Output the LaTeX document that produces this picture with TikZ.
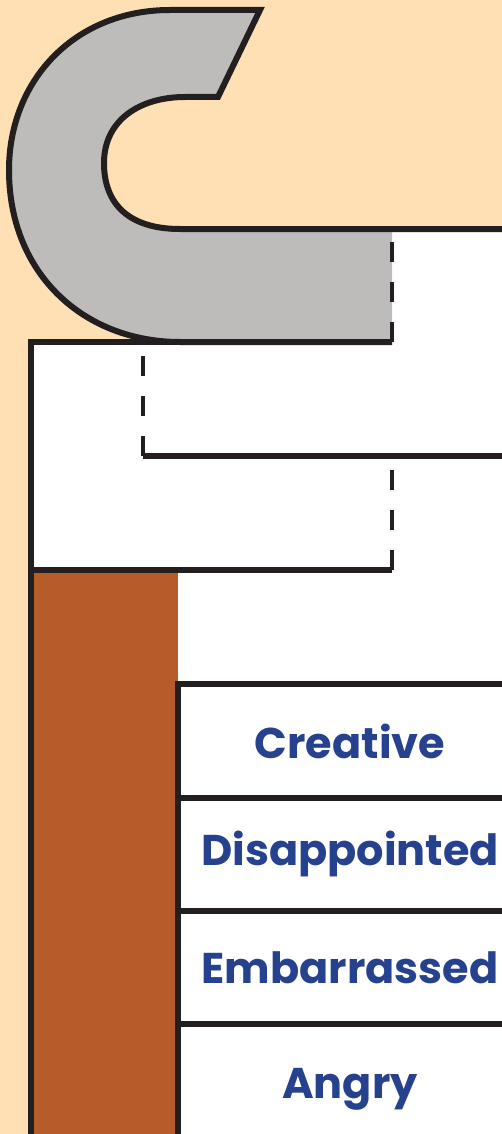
\documentclass[tikz,border=0pt]{standalone}
\usepackage{fontspec}
\newfontfamily\poppins{Poppins}
\usetikzlibrary{positioning}
\definecolor{peach}{RGB}{255,224,180}
\definecolor{hookgray}{RGB}{189,188,186}
\definecolor{rust}{RGB}{182,92,40}
\definecolor{inkblack}{RGB}{35,31,32}
\definecolor{wordblue}{RGB}{38,65,142}
\tikzset{
  outline/.style={draw=inkblack,line width=6pt},
  guide/.style={draw=inkblack,line width=4pt,dash pattern=on 20pt off 20pt},
  feeling/.style={outline,fill=white,rectangle,outer sep=0pt,inner sep=0pt,
    minimum width=344pt,minimum height=113.3pt,text=wordblue,
    font=\poppins\bfseries\fontsize{43}{48}\selectfont}
}
\begin{document}
\begin{tikzpicture}[x=1pt,y=-1pt]
  \clip (0,0) rectangle (502,1134);
  \fill[peach] (0,0) rectangle (502,1134);
  \fill[white] (392,229) -- (502,229) -- (502,1134) -- (31,1134) -- (31,342) -- (392,342) -- cycle;
  \fill[hookgray] (180,229) .. controls (130,229) and (104,205) .. (104,163)
    .. controls (104,120) and (140,97) .. (185,97) -- (218,97) -- (260,10) -- (170,10)
    .. controls (75,10) and (9,80) .. (9,170) .. controls (9,275) and (85,342) .. (180,342)
    -- (392,342) -- (392,229) -- cycle;
  \fill[rust] (31,570) rectangle (178,1140);
  \draw[outline] (502,229) -- (180,229) .. controls (130,229) and (104,205) .. (104,163)
    .. controls (104,120) and (140,97) .. (185,97) -- (218,97) -- (260,10) -- (170,10)
    .. controls (75,10) and (9,80) .. (9,170) .. controls (9,275) and (85,342) .. (180,342) -- (392,342);
  \draw[outline] (392,342) -- (31,342) -- (31,1140);
  \draw[outline] (31,570) -- (392,570);
  \draw[outline] (143,456) -- (502,456);
  \draw[guide] (392,342) -- (392,229);
  \draw[guide] (143,456) -- (143,342);
  \draw[guide] (392,570) -- (392,456);
  \node[feeling] (creative) at (350,741) {Creative};
  \node[feeling,below=0pt of creative] (disappointed) {Disappointed};
  \node[feeling,below=0pt of disappointed] (embarrassed) {Embarrassed};
  \node[feeling,below=0pt of embarrassed,minimum height=130pt] (angry) {Angry};
\end{tikzpicture}
\end{document}
